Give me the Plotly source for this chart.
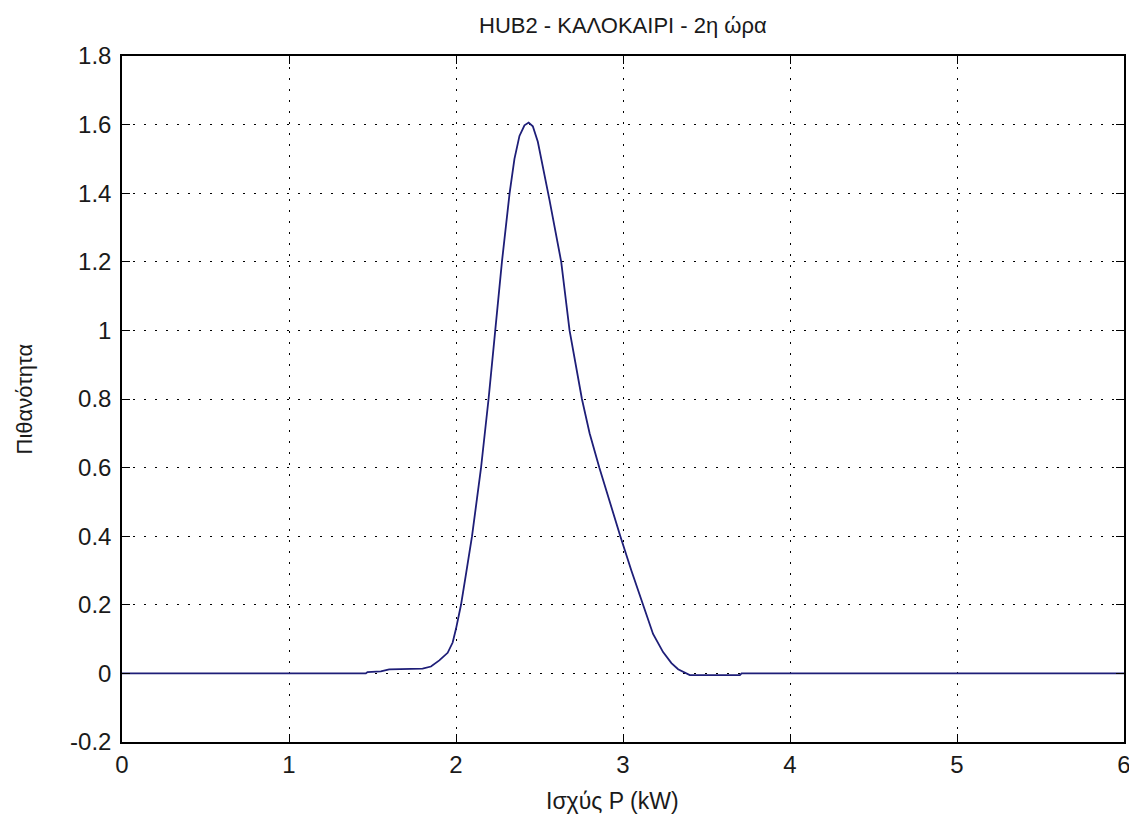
import plotly.graph_objects as go

# Data
power_kw = [0.0, 1.46, 1.47, 1.55, 1.60, 1.80, 1.85, 1.90, 1.95, 1.98, 2.00, 2.03,
            2.06, 2.096, 2.15, 2.195, 2.235, 2.275, 2.321, 2.35, 2.38, 2.41, 2.435,
            2.46, 2.49, 2.52, 2.56, 2.63, 2.68, 2.754, 2.80, 2.858, 2.92, 2.984,
            3.05, 3.12, 3.18, 3.24, 3.29, 3.33, 3.38, 3.40, 3.70, 3.71, 6.0]
density = [0.0, 0.0, 0.004, 0.006, 0.012, 0.014, 0.02, 0.038, 0.06, 0.09, 0.13, 0.2,
           0.29, 0.4, 0.6, 0.8, 1.0, 1.2, 1.4, 1.5, 1.567, 1.598, 1.606,
           1.595, 1.55, 1.48, 1.38, 1.2, 1.0, 0.8, 0.7, 0.6, 0.5, 0.4,
           0.3, 0.2, 0.115, 0.062, 0.03, 0.012, 0.0, -0.005, -0.005, 0.0, 0.0]

x_ticks = [0, 1, 2, 3, 4, 5, 6]
y_ticks = [-0.2, 0, 0.2, 0.4, 0.6, 0.8, 1, 1.2, 1.4, 1.6, 1.8]
y_tick_text = ["-0.2", "0", "0.2", "0.4", "0.6", "0.8", "1", "1.2", "1.4", "1.6", "1.8"]

title_text = "HUB2 - ΚΑΛΟΚΑΙΡΙ - 2η ώρα"
x_title = "Ισχύς P (kW)"
y_title = "Πιθανότητα"

font_family = "Liberation Sans, Arial, sans-serif"
text_color = "#1a1a1a"

fig = go.Figure()
fig.add_trace(go.Scatter(x=power_kw, y=density, mode="lines",
                         line=dict(color="#1e1e78", width=1.8),
                         showlegend=False, hoverinfo="skip"))

axis_common = dict(
    showline=True, linecolor="black", linewidth=1.5, mirror="ticks",
    ticks="inside", ticklen=8, tickcolor="black", tickwidth=1.2,
    showgrid=True, gridcolor="black", gridwidth=1, griddash="2px,9px",
    zeroline=False, automargin=False,
    tickfont=dict(family=font_family, size=24, color=text_color),
)

fig.update_xaxes(range=[0, 6], tickvals=x_ticks,
                 ticktext=[str(v) for v in x_ticks],
                 ticklabelstandoff=0, **axis_common)
fig.update_yaxes(range=[-0.2, 1.8], tickvals=y_ticks, ticktext=y_tick_text,
                 ticklabelstandoff=4, **axis_common)

# The page adds an 8px body margin, so the figure is 8px smaller with
# left/top margins reduced by 8px.
fig.update_layout(
    width=1129, height=813,
    margin=dict(l=114, r=13, t=48, b=79, autoexpand=False),
    paper_bgcolor="white", plot_bgcolor="white",
    font=dict(family=font_family, color=text_color),
    annotations=[
        dict(text=title_text, x=0.5, y=1, xref="paper", yref="paper",
             xanchor="center", yanchor="bottom", yshift=16, showarrow=False,
             font=dict(size=22, family=font_family, color=text_color)),
        dict(text=x_title, x=0.49, y=0, xref="paper", yref="paper",
             xanchor="center", yanchor="top", yshift=-44, showarrow=False,
             font=dict(size=23, family=font_family, color=text_color)),
        dict(text=y_title, x=0, y=0.5, xref="paper", yref="paper",
             xanchor="right", yanchor="middle", xshift=-84, textangle=-90,
             showarrow=False,
             font=dict(size=22, family=font_family, color=text_color)),
    ],
)

fig.write_html("out.html")
